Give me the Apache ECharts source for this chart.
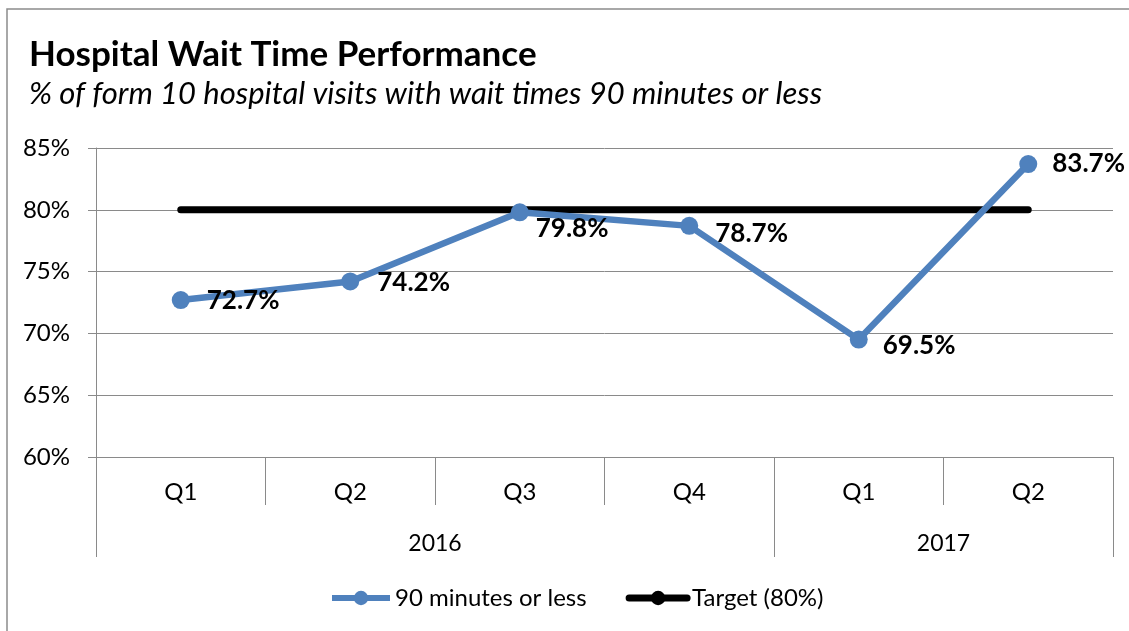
<!DOCTYPE html>
<html>
<head>
<meta charset="utf-8">
<script src="https://cdn.jsdelivr.net/npm/echarts@6/dist/echarts.min.js"></script>
<style>
  html, body { margin: 0; padding: 0; background: #fff; }
  #chart { width: 1129px; height: 631px; }
</style>
</head>
<body>
<div id="chart"></div>
<script>
  // data
  const quarters = ['Q1', 'Q2', 'Q3', 'Q4', 'Q1', 'Q2']
  const years = ['2016', '2017']
  const yearSpans = [4, 2]                       // how many quarters per year
  const waitPct = [72.7, 74.2, 79.8, 78.7, 69.5, 83.7]
  const targetPct = [80, 80, 80, 80, 80, 80]
  const yTicks = { min: 60, max: 85, step: 5 }

  const FONT = 'Lato'
  const GRAY = '#8a8a8a'
  const BLUE = '#4f81bd'

  // where year ticks / labels sit on the 0..n helper axis
  const yearBounds = [0]
  yearSpans.forEach(s => yearBounds.push(yearBounds[yearBounds.length - 1] + s))
  const yearMids = yearSpans.map((s, i) => yearBounds[i] + s / 2)
  // quarter boundaries, drawn as ticks on the same helper axis
  const quarterBounds = quarters.map((q, i) => i).concat(quarters.length)

  // small nudges so the labels sit like the original
  const labelNudge = [[0, 1], [1, 1], [-10, 16], [0, 8], [-2, 6], [-2, 0]]

  const chart = echarts.init(document.getElementById('chart'))

  chart.setOption({
    animation: false,
    textStyle: { fontFamily: FONT },
    graphic: [{
      type: 'rect',
      shape: { x: 7, y: 9, width: 1140, height: 640 },
      style: { fill: 'none', stroke: '#8c8c8c', lineWidth: 1.5 },
      silent: true
    }],
    title: {
      text: 'Hospital Wait Time Performance',
      subtext: '% of form 10 hospital visits with wait times 90 minutes or less',
      left: 24,
      top: 32,
      itemGap: 6,
      textStyle: { fontFamily: FONT, fontWeight: 'bold', fontSize: 35, color: '#000' },
      subtextStyle: { fontFamily: FONT, fontStyle: 'italic', fontSize: 31, color: '#000' }
    },
    legend: {
      left: 324,
      top: 581,
      itemWidth: 58,
      itemHeight: 18,
      itemGap: 39,
      textStyle: { fontFamily: FONT, fontSize: 24, color: '#000' },
      data: [
        { name: '90 minutes or less', lineStyle: { width: 6 } },
        { name: 'Target (80%)', lineStyle: { width: 7 } }
      ]
    },
    grid: { left: 96, right: 16, top: 148, bottom: 174, containLabel: false },
    xAxis: [{
      type: 'category',
      data: quarters,
      boundaryGap: true,
      axisLine: { show: true, lineStyle: { color: GRAY, width: 1 } },
      axisTick: { show: false },
      axisLabel: { interval: 0, margin: 23, fontSize: 24, color: '#000', fontFamily: FONT },
      splitLine: { show: false }
    }, {
      // helper axis: short ticks between quarters
      type: 'value',
      position: 'bottom',
      min: 0,
      max: quarters.length,
      axisLine: { show: false },
      axisTick: { show: true, length: 48, customValues: quarterBounds, lineStyle: { color: GRAY } },
      axisLabel: { show: false },
      splitLine: { show: false }
    }, {
      // helper axis: long ticks and labels for the years
      type: 'value',
      position: 'bottom',
      min: 0,
      max: quarters.length,
      axisLine: { show: false },
      axisTick: { show: true, length: 100, customValues: yearBounds, lineStyle: { color: GRAY } },
      axisLabel: {
        customValues: yearMids,
        margin: 75,
        fontSize: 23,
        color: '#000',
        fontFamily: FONT,
        formatter: v => years[yearMids.indexOf(v)] || ''
      },
      splitLine: { show: false }
    }],
    yAxis: {
      type: 'value',
      min: yTicks.min,
      max: yTicks.max,
      interval: yTicks.step,
      axisLine: { show: true, lineStyle: { color: GRAY } },
      axisTick: { show: true, length: 8, lineStyle: { color: GRAY } },
      axisLabel: { margin: 26, fontSize: 24, color: '#000', fontFamily: FONT, formatter: '{value}%' },
      splitLine: { show: true, lineStyle: { color: GRAY, width: 1 } }
    },
    series: [{
      name: '90 minutes or less',
      type: 'line',
      xAxisIndex: 0,
      data: waitPct.map((v, i) => ({
        value: v,
        label: { offset: labelNudge[i] }
      })),
      symbol: 'circle',
      symbolSize: 18,
      itemStyle: { color: BLUE },
      lineStyle: { color: BLUE, width: 6.5 },
      z: 3,
      label: {
        show: true,
        position: 'right',
        distance: 17,
        fontFamily: FONT,
        fontWeight: 'bold',
        fontSize: 26,
        color: '#000',
        formatter: p => p.value.toFixed(1) + '%'
      }
    }, {
      name: 'Target (80%)',
      type: 'line',
      xAxisIndex: 0,
      data: targetPct,
      symbol: 'none',
      z: 2,
      itemStyle: { color: '#000' },
      lineStyle: { color: '#000', width: 7, cap: 'round' }
    }]
  })
</script>
</body>
</html>
